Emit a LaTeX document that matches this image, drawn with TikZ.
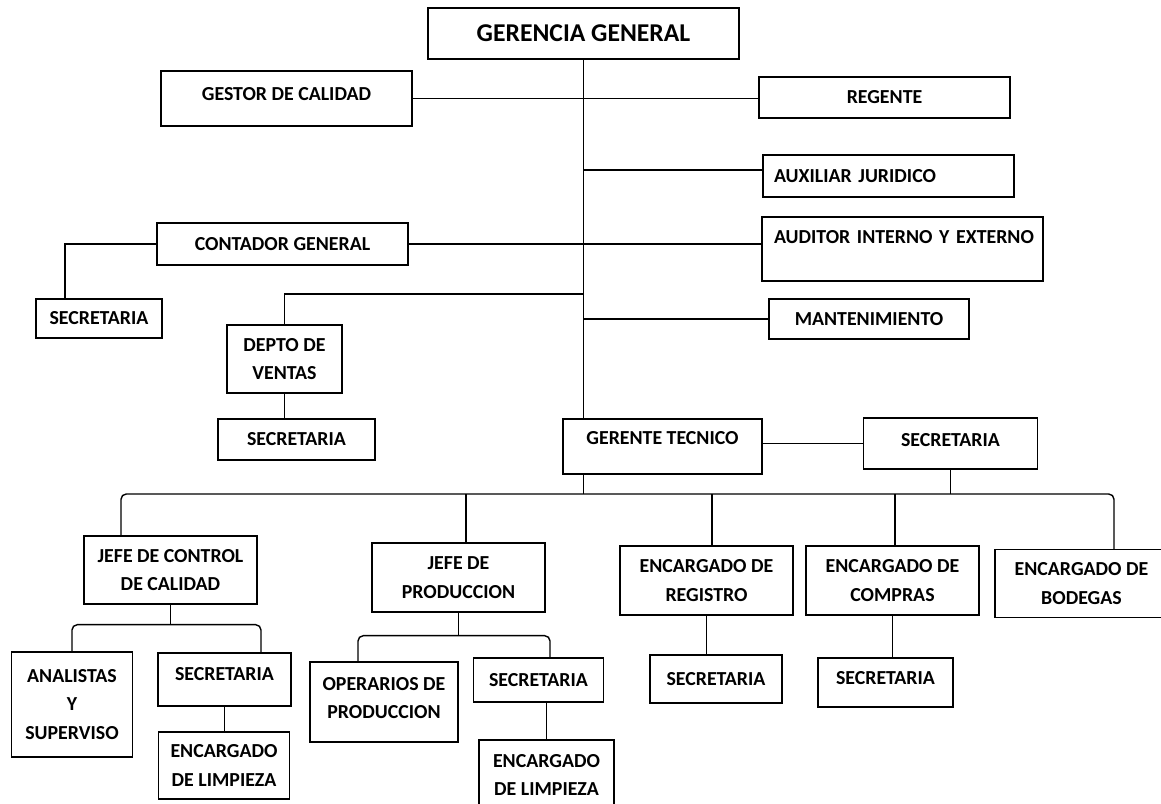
\documentclass[tikz,border=0pt]{standalone}
\usepackage{fontspec}
\setmainfont{Carlito}

\begin{document}
\begin{tikzpicture}[
        x=0.02cm, y=-0.02cm,
        box/.style 2 args={draw, line width=0.8pt, minimum width=#1*0.02cm, minimum height=#2*0.02cm,
            inner sep=0pt, align=center, font=\fontsize{11.3}{16.4}\selectfont\bfseries},
        line/.style={line width=0.8pt},
        bus/.style={line width=0.8pt, rounded corners=3pt}
    ]
    \useasboundingbox (0,0) rectangle (1161,804);

    % Nodes
    \node[box={311}{51}, font=\fontsize{14.6}{17}\selectfont\bfseries] (gg) at (583.5,33.5) {GERENCIA GENERAL};
    \node[box={251}{55}, text depth=0.2cm] (gestor) at (286.5,98.5) {GESTOR DE CALIDAD};
    \node[box={251}{41}] (regente) at (884.5,97.5) {REGENTE};
    \node[box={251}{42}, inner xsep=0.22cm, text width=4.58cm, align=left] (aux) at (888.5,176) {\hbox{AUXILIAR JURIDICO}};
    \node[box={281}{64}, inner xsep=0.24cm, text width=5.14cm, align=left, text depth=0.48cm] (auditor) at (902.5,249) {\hbox{AUDITOR INTERNO Y EXTERNO}};
    \node[box={251}{42}] (contador) at (282.5,244) {CONTADOR GENERAL};
    \node[box={126}{39}] (secA) at (99,318.5) {SECRETARIA};
    \node[box={115}{68}] (ventas) at (284.5,359) {DEPTO DE\\VENTAS};
    \node[box={200}{40}] (mant) at (869,319) {MANTENIMIENTO};
    \node[box={157}{41}] (secB) at (296.5,439.5) {SECRETARIA};
    \node[box={199}{55}, text depth=0.34cm] (gt) at (662.5,446.5) {GERENTE TECNICO};
    \node[box={174}{51}, text depth=0.14cm] (secC) at (950.5,443.5) {SECRETARIA};
    \node[box={173}{68}] (jcc) at (170.5,570) {JEFE DE CONTROL\\DE CALIDAD};
    \node[box={173}{69}] (jp) at (458.5,577.5) {JEFE DE\\PRODUCCION};
    \node[box={173}{69}] (er) at (706.5,580.5) {ENCARGADO DE\\REGISTRO};
    \node[box={173}{69}] (ec) at (892.5,580.5) {ENCARGADO DE\\COMPRAS};
    \node[box={173}{68}] (eb) at (1081.5,583.5) {ENCARGADO DE\\BODEGAS};
    \node[box={121}{105}] (ana) at (72,704.5) {ANALISTAS\\Y\\SUPERVISO};
    \node[box={133}{53}, text depth=0.22cm] (secD) at (224.5,679.5) {SECRETARIA};
    \node[box={131}{67}] (limpA) at (224,765.5) {ENCARGADO\\DE LIMPIEZA};
    \node[box={148}{80}, text depth=0.16cm] (oper) at (384,702) {OPERARIOS DE\\PRODUCCION};
    \node[box={130}{44}] (secE) at (538.5,680) {SECRETARIA};
    \node[box={135}{70}] (limpB) at (546.5,775) {ENCARGADO\\DE LIMPIEZA};
    \node[box={132}{48}] (secF) at (716,679) {SECRETARIA};
    \node[box={135}{49}, text depth=0.18cm] (secG) at (885.5,682.5) {SECRETARIA};

    % Lines
    \draw[line] (gg.south) -- (gg.south |- gt.north);
    \draw[line] (gestor.east) -- (gestor.east -| regente.west);
    \coordinate (auxIn) at ([yshift=0.12cm]aux.west);
    \draw[line] (auxIn -| gg.south) -- (auxIn);
    \draw[line] (contador.east) -- (contador.east -| auditor.west);
    \draw[line] (contador.west) -| ([xshift=-0.68cm]secA.north);
    \draw[line] (gg.south |- 0,294) -| (ventas.north);
    \draw[line] (mant.west -| gg.south) -- (mant.west);
    \draw[line] (ventas.south) -- (ventas.south |- secB.north);
    \draw[line] (gt.east |- secC.west) -- (secC.west);

    % Bus
    \coordinate (busL) at (121,494);
    \coordinate (busR) at (1114,494);
    \draw[bus] (jcc.north -| busL) -- (busL) -- (busR) -- (busR |- eb.north);
    \draw[line] (gt.south -| gg.south) -- (gg.south |- busL);
    \draw[line] (secC.south) -- (secC.south |- busR);
    \foreach \n/\dx in {jp/7.5, er/5.5, ec/2.5}
        \draw[line] (\n.north) ++(\dx,0) coordinate (top) -- (top |- busL);

    % Sub levels
    \coordinate (jccBus) at ([yshift=-0.4cm]jcc.south);
    \draw[line] (jcc.south) -- (jccBus);
    \draw[bus] (ana.north) |- (jccBus) -| ([xshift=0.73cm]secD.north);
    \coordinate (jpBus) at ([yshift=-0.46cm]jp.south);
    \draw[line] (jp.south) -- (jpBus);
    \draw[bus] ([xshift=-0.52cm]oper.north) |- (jpBus) -| ([xshift=0.23cm]secE.north);
    \draw[line] (secD.south) -- (secD.south |- limpA.north);
    \draw[line] (limpB.north |- secE.south) -- (limpB.north);
    \draw[line] (er.south) -- (er.south |- secF.north);
    \draw[line] (ec.south) -- (ec.south |- secG.north);

\end{tikzpicture}
\end{document}
